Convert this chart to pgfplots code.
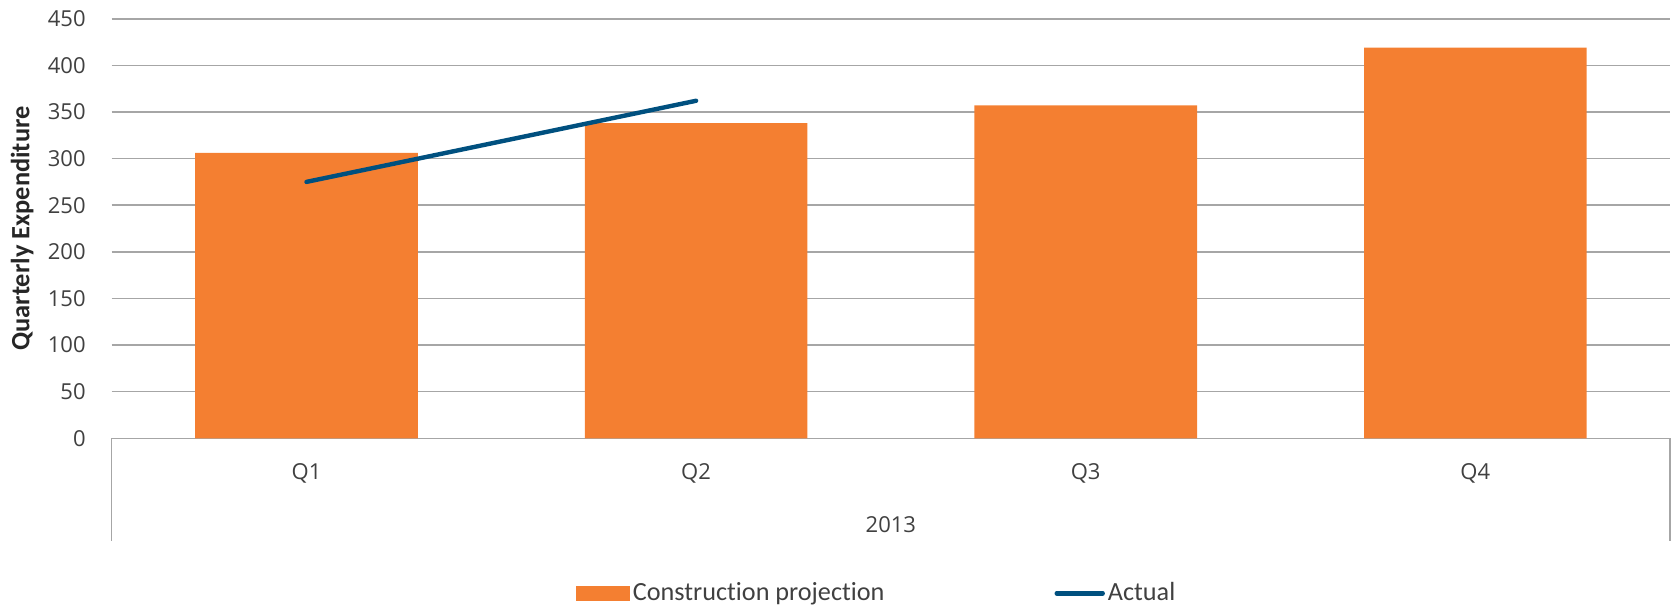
\documentclass[border=0pt]{standalone}
\usepackage{pgfplots}
\pgfplotsset{compat=1.18}
\usepackage{fontspec}
\setmainfont{Open Sans}
\newfontfamily\carlito[Ligatures={NoCommon,NoRare}]{Carlito}
\definecolor{barorange}{HTML}{F47F31}
\definecolor{lineblue}{HTML}{00507F}
\definecolor{gridgray}{HTML}{A6A6A6}
\definecolor{txtgray}{HTML}{404040}
\begin{document}
\begin{tikzpicture}
\begin{axis}[
  at={(0,0)}, anchor=south west,
  scale only axis,
  width=779.2pt, height=209.8pt,
  xmin=-0.5, xmax=3.5,
  ymin=0, ymax=450,
  ytick={0,50,...,450},
  xtick={0,1,2,3},
  xticklabels={Q1,Q2,Q3,Q4},
  major tick length=0pt,
  axis line style={draw=none},
  ymajorgrids,
  major grid style={gridgray, line width=0.8pt},
  /pgf/number format/assume math mode=true,
  tick label style={font=\fontsize{11}{13}\selectfont, text=txtgray},
  yticklabel style={anchor=east, inner sep=0pt, xshift=-12.85pt},
  xticklabel style={anchor=center, inner sep=0pt, yshift=-17.35pt},
  ylabel={Quarterly Expenditure},
  ylabel style={at={(axis description cs:-0.0575,0.5)}, anchor=center, font=\carlito\bfseries\fontsize{13.2}{15}\selectfont, text=black!85},
  clip=false,
  legend columns=2,
  legend style={draw=none, fill=none, at={(0.2979,-0.3694)}, anchor=west, inner sep=0pt, outer sep=0pt,
    font=\carlito\fontsize{13.1}{15}\selectfont, text=txtgray,
    nodes={inner sep=0pt},
    /tikz/every odd column/.append style={column sep=1.5pt},
    /tikz/every even column/.append style={column sep=85pt}},
]
\addplot[ybar, bar width=111.3pt, fill=barorange, draw=none,
  legend image code/.code={\fill[barorange] (0pt,-3.75pt) rectangle (27pt,3.75pt);}]
  coordinates {(0,306) (1,338) (2,357) (3,419)};
\addlegendentry{Construction projection}
\addplot[lineblue, line width=2.2pt, line cap=round, mark=none,
  legend image code/.code={\draw[lineblue, line width=2.2pt, line cap=round] (1pt,0pt) -- (24pt,0pt);}]
  coordinates {(0,275) (1,362)};
\addlegendentry{Actual}
\draw[gridgray, line width=0.8pt] (rel axis cs:0,0) -- ++(0pt,-51.5pt);
\draw[gridgray, line width=0.8pt] (rel axis cs:1,0) -- ++(0pt,-51.5pt);
\node[font=\fontsize{11}{13}\selectfont, text=txtgray, anchor=center, yshift=-43pt] at (rel axis cs:0.5,0) {2013};
\end{axis}
\pgfresetboundingbox
\path[use as bounding box] (-55.85pt,-84.35pt) rectangle (780.15pt,219.15pt);
\end{tikzpicture}
\end{document}
